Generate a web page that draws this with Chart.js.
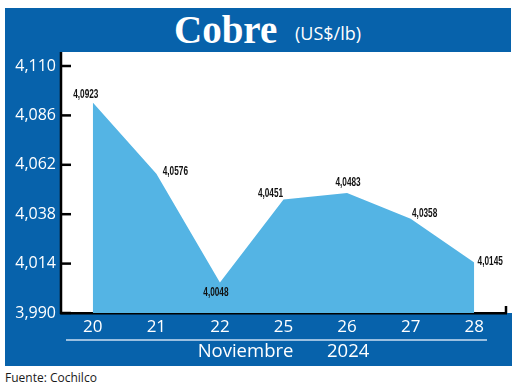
<!DOCTYPE html>
<html>
<head>
<meta charset="utf-8">
<script src="https://cdn.jsdelivr.net/npm/chart.js@4.4.1/dist/chart.umd.min.js"></script>
<style>
  body { margin: 0; background: #fff; width: 520px; height: 387px; position: relative; overflow: hidden; }
  .band { position: absolute; background: #0762ab; }
  #chartBox { position: absolute; left: 0; top: 0; width: 520px; height: 387px; }
  .t { position: absolute; white-space: nowrap; line-height: 1; }
</style>
</head>
<body>
<div class="band" style="left:5px;top:8px;width:506px;height:44px"></div>
<div class="band" style="left:5px;top:8px;width:55px;height:358px"></div>
<div class="band" style="left:5px;top:313px;width:507px;height:53px"></div>
<div class="t" style="left:174px;top:7px;font:bold 39px 'Liberation Serif';color:#fff">Cobre</div>
<div class="t" style="left:295px;top:21px;font:18px 'Open Sans';color:#fff">(US$/lb)</div>
<div class="t" style="left:5px;top:369px;font:12px 'Open Sans';color:#1a1a1a">Fuente: Cochilco</div>
<div id="chartBox"><canvas id="cobreChart" width="520" height="387"></canvas></div>
<script>
const dias = ['20', '21', '22', '25', '26', '27', '28'];
const precios = [4.0923, 4.0576, 4.0048, 4.0451, 4.0483, 4.0358, 4.0145];
const yMin = 3.990;
const yMax = 4.110;
const yStep = 0.024;
const tituloEje = 'Noviembre       2024';

// desplazamiento de cada etiqueta respecto a su punto
const labelOffsets = [[-7, -8], [19, -2], [-4, 10], [-13, -6], [1, -10], [14, -5], [16, -1]];

const fmtDec = (v, d) => v.toFixed(d).replace('.', ',');

const decoPlugin = {
    id: 'deco',
    afterDraw(chart) {
        const ctx = chart.ctx;
        const area = chart.chartArea;
        const yScale = chart.scales.y;
        ctx.save();
        ctx.strokeStyle = '#000';
        ctx.lineWidth = 2.5;
        // eje vertical
        ctx.beginPath();
        ctx.moveTo(area.left, 52);
        ctx.lineTo(area.left, area.bottom + 1);
        ctx.stroke();
        // marcas hacia adentro
        yScale.ticks.forEach((t) => {
            const y = yScale.getPixelForValue(t.value);
            ctx.beginPath();
            ctx.moveTo(area.left, y);
            ctx.lineTo(area.left + 10, y);
            ctx.stroke();
        });
        // marca final del eje x
        ctx.beginPath();
        ctx.moveTo(area.right, area.bottom - 7);
        ctx.lineTo(area.right, area.bottom);
        ctx.stroke();
        // linea clara bajo los dias
        ctx.strokeStyle = 'rgba(225,236,248,0.9)';
        ctx.lineWidth = 1.5;
        ctx.beginPath();
        ctx.moveTo(66, 340);
        ctx.lineTo(487, 340);
        ctx.stroke();
        ctx.restore();
    },
    afterDatasetsDraw(chart) {
        const ctx = chart.ctx;
        const meta = chart.getDatasetMeta(0);
        ctx.fillStyle = '#111';
        ctx.font = "bold 12.5px 'Liberation Sans', sans-serif";
        ctx.textAlign = 'center';
        ctx.textBaseline = 'middle';
        meta.data.forEach((pt, i) => {
            const off = labelOffsets[i];
            ctx.save();
            ctx.translate(pt.x + off[0], pt.y + off[1]);
            ctx.scale(0.66, 1); // letra condensada
            ctx.fillText(fmtDec(precios[i], 4), 0, 0);
            ctx.restore();
        });
    }
};

new Chart(document.getElementById('cobreChart'), {
    type: 'line',
    data: {
        labels: dias,
        datasets: [{
            data: precios,
            fill: 'start',
            backgroundColor: '#54b4e4',
            borderWidth: 0,
            pointRadius: 0,
            tension: 0
        }]
    },
    options: {
        responsive: false,
        animation: false,
        layout: { padding: { top: 66, right: 14, left: 0, bottom: 0 } },
        plugins: { legend: { display: false }, tooltip: { enabled: false } },
        scales: {
            x: {
                offset: true,
                grid: { display: false, drawTicks: false },
                border: { display: true, color: '#000', width: 2.5 },
                ticks: { color: '#fff', font: { family: 'Open Sans', size: 17 }, padding: 4, maxRotation: 0 },
                title: {
                    display: true,
                    text: tituloEje,
                    color: '#fff',
                    font: { family: 'Open Sans', size: 18.5 },
                    padding: { top: 0, bottom: 24 }
                },
                afterFit: (s) => { s.height = 74; }
            },
            y: {
                min: yMin,
                max: yMax,
                grid: { display: false, drawTicks: false },
                border: { display: false },
                ticks: {
                    stepSize: yStep,
                    color: '#fff',
                    font: { family: 'Open Sans', size: 16 },
                    padding: 5,
                    callback: (v) => fmtDec(v, 3)
                },
                afterFit: (s) => { s.width = 61; }
            }
        }
    },
    plugins: [decoPlugin]
});
</script>
</body>
</html>
